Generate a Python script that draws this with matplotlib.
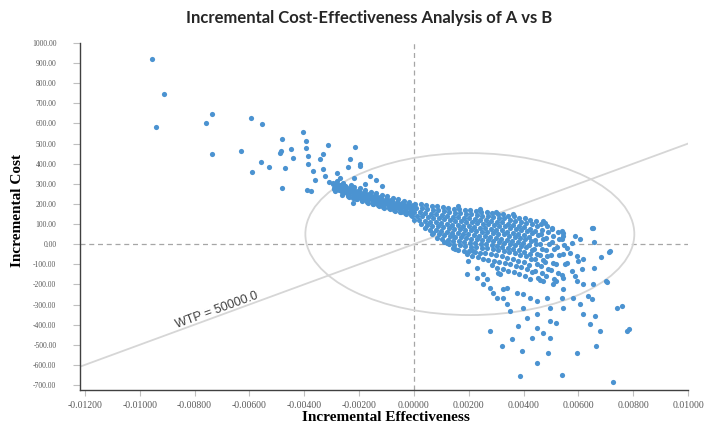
import matplotlib
matplotlib.use("Agg")
import matplotlib.pyplot as plt
from matplotlib.patches import Ellipse
from matplotlib.ticker import FormatStrFormatter

# sparse points, upper left
out_eff = [
    -0.00956, -0.00912, -0.00942, -0.00737, -0.00759, -0.00595, -0.00555, -0.00737, -0.00631, -0.00405,
    -0.00482, -0.00485, -0.00449, -0.00394, -0.00394, -0.00387, -0.00442, -0.00558, -0.00529, -0.00471,
    -0.00591, -0.00482, -0.00390, -0.00376, -0.00314, -0.00215, -0.00343, -0.00332, -0.00387, -0.00369,
    -0.00332, -0.00325, -0.00296, -0.00234, -0.00241, -0.00197, -0.00223, -0.00489, -0.00281, -0.00197,
    -0.00360, -0.00270, -0.00250, -0.00160, -0.00117, -0.00290, -0.00310, -0.00180, -0.00140, -0.00220,
]
out_cost = [
    920, 746, 582, 647, 602, 627, 597, 448, 463, 557,
    522, 463, 473, 512, 478, 438, 428, 408, 383, 378,
    358, 279, 269, 264, 493, 483, 423, 448, 398, 363,
    373, 338, 303, 423, 383, 388, 204, 453, 353, 398,
    320, 330, 290, 340, 289, 280, 310, 300, 320, 330,
]

# dense band left of zero
band_eff = [
    -0.00295, -0.00291,
    -0.00285, -0.00288, -0.00282,
    -0.00276, -0.00273, -0.00279,
    -0.00266, -0.00263, -0.00269, -0.00261,
    -0.00255, -0.00258, -0.00252, -0.00257,
    -0.00246, -0.00243, -0.00249, -0.00241,
    -0.00236, -0.00239, -0.00233, -0.00238, -0.00231,
    -0.00226, -0.00223, -0.00229, -0.00221,
    -0.00217, -0.00214, -0.00219, -0.00212, -0.00218,
    -0.00206, -0.00209, -0.00203, -0.00208,
    -0.00196, -0.00193, -0.00199, -0.00191, -0.00198,
    -0.00186, -0.00189, -0.00183, -0.00188,
    -0.00177, -0.00174, -0.00179, -0.00172, -0.00178,
    -0.00166, -0.00169, -0.00163, -0.00168,
    -0.00156, -0.00153, -0.00159, -0.00151, -0.00158,
    -0.00146, -0.00149, -0.00143, -0.00148,
    -0.00137, -0.00134, -0.00139, -0.00132, -0.00138,
    -0.00126, -0.00129, -0.00123, -0.00128,
    -0.00116, -0.00113, -0.00119, -0.00111, -0.00118,
    -0.00106, -0.00109, -0.00103, -0.00108,
    -0.00096, -0.00093, -0.00099, -0.00091, -0.00098,
    -0.00086, -0.00089, -0.00083, -0.00088,
    -0.00077, -0.00074, -0.00079, -0.00072, -0.00078,
    -0.00066, -0.00069, -0.00063, -0.00068,
    -0.00056, -0.00053, -0.00059, -0.00051, -0.00058,
    -0.00046, -0.00049, -0.00043, -0.00048,
    -0.00037, -0.00034, -0.00039, -0.00032, -0.00038,
    -0.00026, -0.00029, -0.00023, -0.00028,
    -0.00016, -0.00013, -0.00019, -0.00011, -0.00018,
    -0.00006, -0.00009, -0.00003, -0.00008,
]
band_cost = [
    300, 272,
    290, 262, 312,
    284, 268, 300,
    278, 258, 294, 246,
    274, 256, 290, 302,
    270, 252, 284, 238,
    265, 249, 280, 234, 294,
    260, 244, 275, 230,
    256, 242, 270, 226, 286,
    252, 238, 266, 222,
    248, 234, 262, 218, 278,
    244, 230, 258, 214,
    240, 226, 254, 210, 268,
    236, 222, 250, 206,
    232, 218, 246, 202, 260,
    228, 214, 242, 198,
    224, 210, 238, 194, 252,
    220, 206, 234, 190,
    216, 202, 230, 186, 246,
    212, 198, 226, 182,
    208, 194, 222, 178, 238,
    204, 190, 218, 174,
    200, 186, 214, 170, 230,
    196, 182, 210, 166,
    193, 178, 207, 162, 222,
    190, 174, 204, 158,
    187, 170, 201, 154, 216,
    184, 166, 198, 150,
    181, 162, 196, 146, 212,
    178, 158, 194, 140,
]

# dense fan right of zero
fan_eff = [
    0.00005, 0.00009, 0.00002, 0.00011, 0.00000,
    0.00025, 0.00029, 0.00022, 0.00031, 0.00020, 0.00027,
    0.00045, 0.00049, 0.00042, 0.00051, 0.00040, 0.00047, 0.00039,
    0.00065, 0.00069, 0.00062, 0.00071, 0.00060, 0.00067, 0.00059, 0.00070,
    0.00085, 0.00089, 0.00082, 0.00091, 0.00080, 0.00087, 0.00079, 0.00090, 0.00083,
    0.00105, 0.00109, 0.00102, 0.00111, 0.00100, 0.00107, 0.00099, 0.00110, 0.00103, 0.00108,
    0.00125, 0.00129, 0.00122, 0.00131, 0.00120, 0.00127, 0.00119, 0.00130, 0.00123, 0.00128,
    0.00145, 0.00149, 0.00142, 0.00151, 0.00140, 0.00147, 0.00139, 0.00150, 0.00143, 0.00148, 0.00141,
    0.00165, 0.00169, 0.00162, 0.00171, 0.00160, 0.00167, 0.00159, 0.00170, 0.00163, 0.00168, 0.00161,
    0.00185, 0.00189, 0.00182, 0.00191, 0.00180, 0.00187, 0.00179, 0.00190, 0.00183, 0.00188, 0.00181, 0.00192,
    0.00205, 0.00209, 0.00202, 0.00211, 0.00200, 0.00207, 0.00199, 0.00210, 0.00203, 0.00208, 0.00201, 0.00212,
    0.00225, 0.00229, 0.00222, 0.00231, 0.00220, 0.00227, 0.00219, 0.00230, 0.00223, 0.00228, 0.00221, 0.00232,
    0.00245, 0.00249, 0.00242, 0.00251, 0.00240, 0.00247, 0.00239, 0.00250, 0.00243, 0.00248, 0.00241, 0.00252,
    0.00265, 0.00269, 0.00262, 0.00271, 0.00260, 0.00267, 0.00259, 0.00270, 0.00263, 0.00268, 0.00261, 0.00272,
    0.00285, 0.00289, 0.00282, 0.00291, 0.00280, 0.00287, 0.00279, 0.00290, 0.00283, 0.00288, 0.00281, 0.00292, 0.00284,
    0.00305, 0.00309, 0.00302, 0.00311, 0.00300, 0.00307, 0.00299, 0.00310, 0.00303, 0.00308, 0.00301, 0.00312, 0.00304,
    0.00325, 0.00329, 0.00322, 0.00331, 0.00320, 0.00327, 0.00319, 0.00330, 0.00323, 0.00328, 0.00321, 0.00332, 0.00324,
    0.00345, 0.00349, 0.00342, 0.00351, 0.00340, 0.00347, 0.00339, 0.00350, 0.00343, 0.00348, 0.00341, 0.00352, 0.00344,
    0.00365, 0.00369, 0.00362, 0.00371, 0.00360, 0.00367, 0.00359, 0.00370, 0.00363, 0.00368, 0.00361, 0.00372, 0.00364,
    0.00385, 0.00389, 0.00382, 0.00391, 0.00380, 0.00387, 0.00379, 0.00390, 0.00383, 0.00388, 0.00381, 0.00392, 0.00384,
    0.00405, 0.00409, 0.00402, 0.00411, 0.00400, 0.00407, 0.00399, 0.00410, 0.00403, 0.00408, 0.00401, 0.00412, 0.00404,
    0.00425, 0.00429, 0.00422, 0.00431, 0.00420, 0.00427, 0.00419, 0.00430, 0.00423, 0.00428, 0.00421, 0.00432, 0.00424,
    0.00445, 0.00449, 0.00442, 0.00451, 0.00440, 0.00447, 0.00439, 0.00450, 0.00443, 0.00448, 0.00441, 0.00452,
    0.00465, 0.00469, 0.00462, 0.00471, 0.00460, 0.00467, 0.00459, 0.00470, 0.00463, 0.00468, 0.00461,
    0.00485, 0.00489, 0.00482, 0.00491, 0.00480, 0.00487, 0.00479, 0.00490, 0.00483,
    0.00505, 0.00509, 0.00502, 0.00511, 0.00500, 0.00507, 0.00499, 0.00510,
    0.00525, 0.00529, 0.00522, 0.00531, 0.00520, 0.00527, 0.00519,
    0.00545, 0.00549, 0.00542, 0.00551, 0.00540,
]
fan_cost = [
    200, 180, 160, 140, 120,
    198, 178, 158, 138, 118, 100,
    195, 175, 155, 135, 115, 95, 78,
    192, 172, 152, 132, 112, 92, 72, 55,
    188, 168, 148, 128, 108, 88, 68, 48, 32,
    185, 165, 145, 125, 105, 85, 65, 45, 25, 12,
    180, 160, 140, 120, 100, 80, 60, 40, 20, 2,
    176, 156, 136, 116, 96, 76, 56, 36, 16, -4, -20,
    174, 154, 134, 114, 94, 74, 54, 34, 14, -6, -28,
    170, 150, 130, 110, 90, 70, 50, 30, 10, -10, -32, -50,
    168, 148, 128, 108, 88, 68, 48, 28, 8, -12, -35, -58,
    165, 145, 125, 105, 85, 65, 45, 25, 5, -15, -38, -65,
    162, 142, 122, 102, 82, 62, 42, 22, 2, -18, -42, -72,
    160, 140, 120, 100, 80, 60, 40, 20, 0, -20, -45, -78,
    157, 137, 117, 97, 77, 57, 37, 17, -3, -23, -50, -85, -105,
    152, 132, 112, 92, 72, 52, 32, 12, -8, -28, -55, -90, -118,
    148, 128, 108, 88, 68, 48, 28, 8, -12, -32, -60, -95, -125,
    142, 122, 102, 82, 62, 42, 22, 2, -18, -40, -68, -100, -135,
    138, 116, 96, 76, 56, 36, 16, -4, -24, -46, -75, -108, -140,
    132, 110, 90, 70, 50, 30, 10, -10, -30, -52, -82, -115, -150,
    128, 105, 84, 64, 44, 24, 4, -16, -38, -60, -90, -125, -160,
    122, 98, 76, 56, 36, 16, -6, -28, -50, -75, -105, -140, -172,
    115, 90, 66, 44, 22, 0, -24, -48, -74, -100, -132, -168,
    100, 72, 48, 24, 0, -26, -52, -80, -110, -145, -178,
    88, 58, 30, 2, -28, -58, -90, -125, -160,
    75, 42, 10, -22, -55, -92, -130, -172,
    62, 25, -15, -55, -100, -145, -185,
    40, -5, -50, -100, -155,
]

# sparse points around the fan
tail_eff = [
    0.00653, 0.00657, 0.00712, 0.00682, 0.00657, 0.00704, 0.00653, 0.00617, 0.00595, 0.00613,
    0.00617, 0.00606, 0.00588, 0.00544, 0.00540, 0.00577, 0.00558, 0.00569, 0.00595, 0.00599,
    0.00558, 0.00577, 0.00588, 0.00544, 0.00504, 0.00478, 0.00540, 0.00635, 0.00470, 0.00507,
    0.00544, 0.00650, 0.00606, 0.00617, 0.00544, 0.00496, 0.00520, 0.00449, 0.00398, 0.00412,
    0.00380, 0.00350, 0.00340, 0.00325, 0.00303, 0.00288, 0.00277, 0.00252, 0.00230, 0.00193,
    0.00252, 0.00314, 0.00340, 0.00376, 0.00398, 0.00423, 0.00449, 0.00485, 0.00496, 0.00580,
    0.00449, 0.00470, 0.00430, 0.00496, 0.00394, 0.00449, 0.00490, 0.00595, 0.00664, 0.00679,
    0.00660, 0.00540, 0.00726, 0.00320, 0.00277, 0.00358, 0.00642, 0.00387, 0.00740, 0.00760,
    0.00777, 0.00715, 0.00700, 0.00066, 0.00150, 0.00197, 0.00266, 0.00325, 0.00142, 0.00120,
    0.00215, 0.00230, 0.00307, 0.00300, 0.00470, 0.00540, 0.00650, 0.00160, 0.00240, 0.00360,
    0.00785,
]
tail_cost = [
    80, 10, -40, -65, -119, -189, -199, -199, -184, -124,
    -75, 25, 40, 55, 25, 5, -20, -45, -60, -85,
    -95, -134, -159, -169, 80, 104, -269, -259, -184, -199,
    -224, -274, -299, -348, -318, -383, -393, -348, -318, -368,
    -408, -333, -299, -269, -269, -244, -219, -199, -169, -149,
    -149, -149, -219, -244, -249, -269, -284, -269, -318, -269,
    -418, -443, -468, -468, -532, -592, -542, -542, -507, -433,
    -358, -652, -687, -508, -433, -473, -398, -657, -318, -308,
    -433, -35, -184, 50, -25, -85, -174, -224, 40, 5,
    -35, -119, -144, 160, 114, 65, 80, 190, 175, 150,
    -423,
]

wtp = 50000.0
x_ticks = [-0.012, -0.010, -0.008, -0.006, -0.004, -0.002, 0.0, 0.002, 0.004, 0.006, 0.008, 0.010]
y_ticks = list(range(-700, 1001, 100))

fig = plt.figure(figsize=(7.07, 4.26), dpi=100)
ax = fig.add_axes([0.1132, 0.0845, 0.860, 0.8146])

ax.axhline(0, color="#a6a6a6", lw=0.9, dashes=(4, 3), zorder=1)
ax.axvline(0, color="#a6a6a6", lw=0.9, dashes=(4, 3), zorder=1)
ax.axline((0, 0), slope=wtp, color="#d6d6d6", lw=1.3, zorder=1)
ax.add_patch(Ellipse((0.00204, 50), 0.0120, 805, fill=False, ec="#d6d6d6", lw=1.3, zorder=1))

dot = "#4b93d1"
for xs, ys in [(out_eff, out_cost), (band_eff, band_cost), (fan_eff, fan_cost), (tail_eff, tail_cost)]:
    ax.scatter(xs, ys, s=14, color=dot, linewidths=0, zorder=3)

ax.text(-0.0072, -330, "WTP = 50000.0", rotation=20, ha="center", va="center",
        fontsize=9, color="#404040", family="Liberation Sans", rotation_mode="anchor")

ax.set_xlim(-0.01218, 0.0100)
ax.set_ylim(-725, 1000)
ax.set_xticks(x_ticks)
ax.set_yticks(y_ticks)
ax.xaxis.set_major_formatter(FormatStrFormatter("%.5f"))
ax.yaxis.set_major_formatter(FormatStrFormatter("%.2f"))
for s in ["top", "right"]:
    ax.spines[s].set_visible(False)
for s in ["left", "bottom"]:
    ax.spines[s].set_color("#404040")
    ax.spines[s].set_linewidth(1.0)
ax.tick_params(axis="y", length=5, pad=12, color="#bfbfbf", labelsize=5.5, labelcolor="#595959")
ax.tick_params(axis="x", length=4, pad=4, color="#bfbfbf", labelsize=7, labelcolor="#595959")
for lab in ax.get_xticklabels() + ax.get_yticklabels():
    lab.set_family("Liberation Serif")

fig.text(0.522, 0.958, "Incremental Cost-Effectiveness Analysis of A vs B", ha="center", va="center",
         fontsize=12, fontweight="bold", family="Lato", color="#262626")
fig.text(0.546, 0.021, "Incremental Effectiveness", ha="center", va="center",
         fontsize=11, fontweight="bold", family="Liberation Serif")
fig.text(0.025, 0.505, "Incremental Cost", ha="center", va="center", rotation=90,
         fontsize=11, fontweight="bold", family="Liberation Serif")

fig.savefig("out.png", dpi=100)
